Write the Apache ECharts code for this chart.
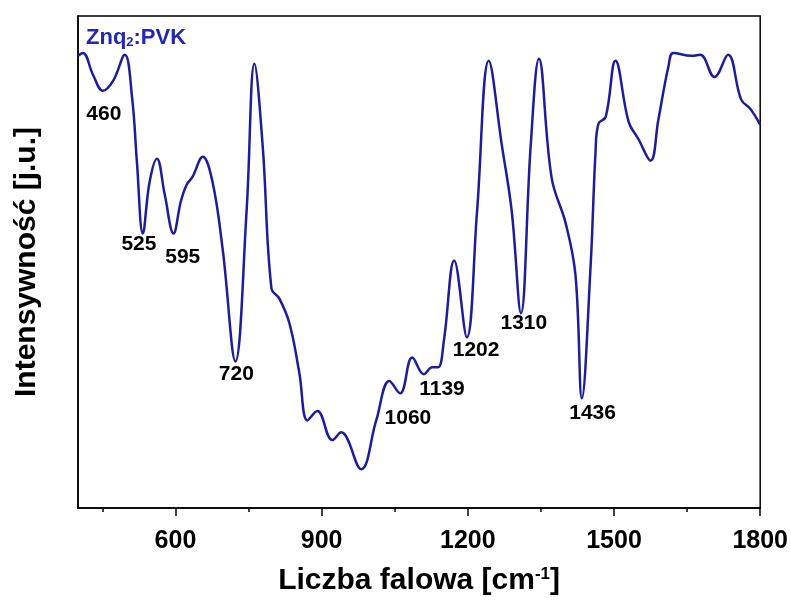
<!DOCTYPE html>
<html>
<head>
<meta charset="utf-8">
<script src="https://cdn.jsdelivr.net/npm/echarts@6/dist/echarts.min.js"></script>
<style>
  html, body { margin: 0; padding: 0; background: #fff; }
  #chart { width: 791px; height: 601px; }
</style>
</head>
<body>
<div id="chart"></div>
<script>
// wavenumber [cm-1] and intensity [a.u.]
const wavenumber = [
  400, 410, 431, 451, 472, 496, 511, 521, 533, 547, 562, 578, 596, 611, 623, 635, 656, 676, 697, 723,
  746, 762, 779, 797, 813, 834, 854, 871, 891, 922, 940, 981, 1012, 1039, 1061, 1086, 1110, 1127, 1139, 1151,
  1172, 1198, 1219, 1243, 1270, 1290, 1309, 1329, 1346, 1372, 1401, 1421, 1434, 1452, 1462, 1468, 1483, 1503, 1530, 1550,
  1575, 1591, 1612, 1622, 1659, 1677, 1706, 1734, 1761, 1780, 1800
];
const intensity = [
  91.9, 92.5, 88.0, 84.8, 86.8, 92.1, 83.4, 70.2, 55.8, 66.3, 71.0, 63.7, 55.8, 62.3, 65.7, 67.3, 71.4, 66.3, 52.5, 29.8,
  60.4, 90.3, 73.6, 44.6, 42.6, 37.5, 27.6, 17.8, 19.7, 13.8, 15.4, 7.9, 17.8, 25.8, 23.3, 30.6, 27.2, 28.6, 28.6, 34.1,
  50.3, 34.7, 60.4, 90.9, 73.6, 60.4, 39.6, 73.6, 91.3, 67.1, 57.8, 47.3, 22.3, 49.3, 72.2, 78.1, 79.5, 90.9, 78.5, 75.0,
  70.6, 78.9, 89.9, 92.5, 91.9, 92.1, 87.6, 92.1, 83.0, 81.1, 77.9
];

// band annotations: text and where it sits (data coords)
const bandText = ['460', '525', '595', '720', '1060', '1139', '1202', '1310', '1436'];
const bandX = [453, 525, 615, 725, 1077, 1147, 1217, 1315, 1456];
const bandY = [80.1, 53.6, 50.9, 27.2, 18.3, 24.1, 32.0, 37.5, 19.3];

const majorTicks = [600, 900, 1200, 1500, 1800];
const minorTicks = [450, 750, 1050, 1350, 1650];

const FONT = 'Liberation Sans, Arial, sans-serif';

const chart = echarts.init(document.getElementById('chart'));

const xBase = {
  type: 'value',
  min: 400,
  max: 1800,
  position: 'bottom',
  splitLine: { show: false },
};

chart.setOption({
  animation: false,
  title: {
    text: 'Znq{s|2}:PVK',
    left: 81,
    top: 22,
    textStyle: {
      color: '#2428b0',
      fontFamily: FONT,
      fontSize: 22,
      fontWeight: 'bold',
      rich: {
        s: { color: '#2428b0', fontFamily: FONT, fontSize: 13, fontWeight: 'bold', verticalAlign: 'bottom' },
      },
    },
  },
  grid: {
    left: 78, right: 29, top: 16, bottom: 80,
    show: true,
    borderColor: '#000',
    borderWidth: 1.5,
    backgroundColor: 'transparent',
  },
  xAxis: [
    {
      ...xBase,
      name: 'Liczba falowa [cm{sup|-1}]',
      nameLocation: 'middle',
      nameGap: 58,
      nameTextStyle: {
        color: '#000',
        fontFamily: FONT,
        fontSize: 30,
        fontWeight: 'bold',
        rich: {
          sup: { color: '#000', fontFamily: FONT, fontSize: 17, fontWeight: 'bold', verticalAlign: 'top' },
        },
      },
      axisLine: { show: true, onZero: false, lineStyle: { color: '#000', width: 1.5 } },
      axisTick: { show: true, length: 8, customValues: majorTicks, lineStyle: { color: '#000', width: 1.5 } },
      axisLabel: {
        customValues: majorTicks,
        formatter: v => String(v),
        margin: 21,
        color: '#000',
        fontFamily: FONT,
        fontSize: 25,
        fontWeight: 'bold',
      },
    },
    {
      ...xBase,
      axisLine: { show: false, onZero: false },
      axisTick: { show: true, length: 4, customValues: minorTicks, lineStyle: { color: '#000', width: 1.5 } },
      axisLabel: { show: false },
    },
  ],
  yAxis: {
    type: 'value',
    min: 0,
    max: 100,
    name: 'Intensywność [j.u.]',
    nameLocation: 'middle',
    nameGap: 36,
    nameTextStyle: { color: '#000', fontFamily: FONT, fontSize: 30, fontWeight: 'bold' },
    axisLine: { show: true, lineStyle: { color: '#000', width: 1.5 } },
    axisTick: { show: false },
    axisLabel: { show: false },
    splitLine: { show: false },
  },
  series: [
    {
      type: 'line',
      data: wavenumber.map((w, i) => [w, intensity[i]]),
      smooth: 0.4,
      showSymbol: false,
      lineStyle: { color: '#1c1c9c', width: 2.5 },
      silent: true,
    },
    {
      type: 'scatter',
      data: bandX.map((x, i) => [x, bandY[i], bandText[i]]),
      symbolSize: 0,
      itemStyle: { color: '#000', opacity: 1 },
      label: {
        show: true,
        position: 'inside',
        formatter: p => p.value[2],
        color: '#000',
        opacity: 1,
        fontFamily: FONT,
        fontSize: 21,
        fontWeight: 'bold',
      },
      silent: true,
    },
  ],
});
</script>
</body>
</html>
